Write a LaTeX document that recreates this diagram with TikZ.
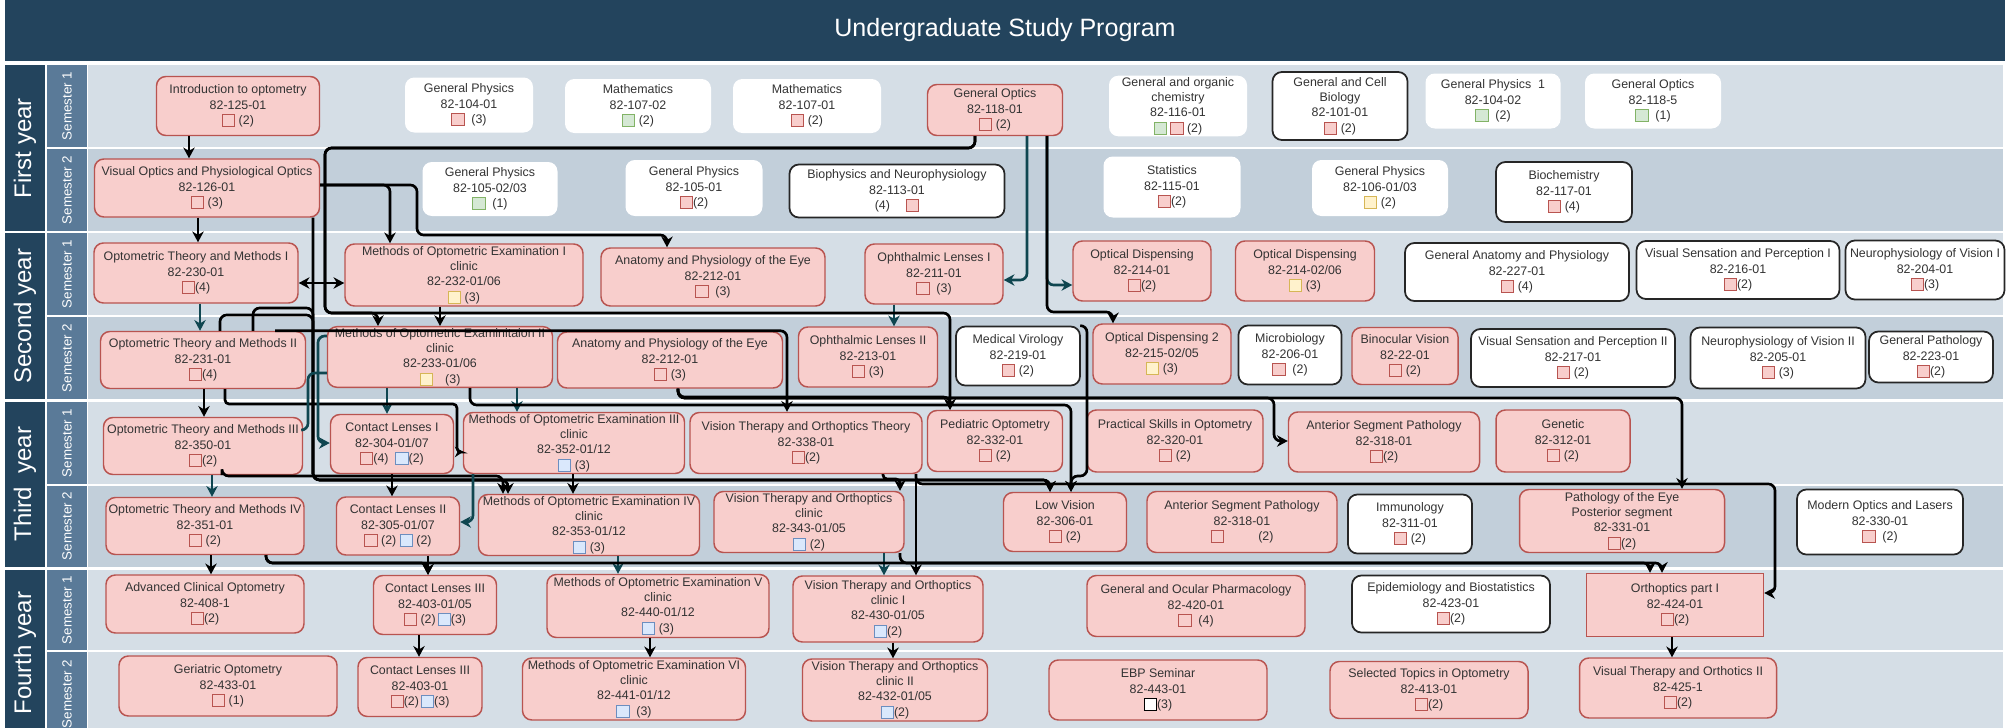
\documentclass[tikz,border=0pt]{standalone}
\usepackage{fontspec}
\setmainfont{Liberation Sans}
\usetikzlibrary{arrows.meta}

\definecolor{navy}{HTML}{23445D}
\definecolor{semblue}{HTML}{5A7A98}
\definecolor{bandA}{HTML}{D5DEE6}
\definecolor{bandB}{HTML}{C2CFDA}
\definecolor{pinkfill}{HTML}{F8CECC}
\definecolor{pinkline}{HTML}{B85450}
\definecolor{greenfill}{HTML}{D5E8D4}
\definecolor{greenline}{HTML}{82B366}
\definecolor{yellowfill}{HTML}{FFF2CC}
\definecolor{yellowline}{HTML}{D6B656}
\definecolor{bluefill}{HTML}{DAE8FC}
\definecolor{blueline}{HTML}{6C8EBF}
\definecolor{tealline}{HTML}{0F4650}
\definecolor{txt}{HTML}{333333}

\setlength{\fboxsep}{0pt}
\setlength{\fboxrule}{0.7pt}
\newcommand{\csq}[2]{\raisebox{-1.2pt}{\fcolorbox{#1}{#2}{\rule{0pt}{8.5pt}\rule{8.5pt}{0pt}}}}
\newcommand{\sqp}{\csq{pinkline}{pinkfill}}
\newcommand{\sqg}{\csq{greenline}{greenfill}}
\newcommand{\sqy}{\csq{yellowline}{yellowfill}}
\newcommand{\sqb}{\csq{blueline}{bluefill}}
\newcommand{\sqw}{\csq{black}{white}}
\newcommand{\nodefont}{\fontsize{9.3}{11.6}\selectfont}

\tikzset{every picture/.style={line width=0.75pt}}
\tikzset{
  course/.style={draw=pinkline, fill=pinkfill, rounded corners=7pt, line width=1.1pt, align=center, inner sep=1pt, text=txt, font=\nodefont},
  elect/.style={course, draw=none, fill=white},
  extc/.style={course, draw=black!85, fill=white, line width=1.3pt},
  sz/.style 2 args={minimum width=#1*0.75pt, minimum height=#2*0.75pt},
  link/.style={draw=black, line width=2pt, rounded corners=5pt, ->, >={Stealth[length=8pt,width=8.5pt,inset=2.5pt]}},
  tlink/.style={link, draw=tealline},
  semlabel/.style={rotate=90, text=white, font=\fontsize{10}{12}\selectfont},
  yearlabel/.style={rotate=90, text=white, font=\fontsize{18}{22}\selectfont}
}

\begin{document}
\begin{tikzpicture}[x=0.75pt,y=0.75pt,yscale=-1,xscale=1]
\useasboundingbox (0,0) rectangle (2010,728);

%Title bar
\fill[navy] (5,0) rectangle (2005,61);
\node[font=\fontsize{18.8}{22}\selectfont, text=white] (title) at (1005,30) {Undergraduate Study Program};

%Year columns
\fill[navy] (5,65) rectangle (45,231);
\fill[navy] (5,233) rectangle (45,399);
\fill[navy] (5,402) rectangle (45,567);
\fill[navy] (5,570) rectangle (45,740);
\node[yearlabel] (y1) at (25,148) {First year};
\node[yearlabel] (y2) at (25,316) {Second year};
\node[yearlabel] (y3) at (25,484) {Third\ \ year};
\node[yearlabel] (y4) at (25,653) {Fourth year};

%Semester cells and bands
\fill[semblue] (47,65) rectangle (87,147);   \fill[bandA] (88,65) rectangle (2003,147);
\fill[semblue] (47,149) rectangle (87,231);  \fill[bandB] (88,149) rectangle (2003,231);
\fill[semblue] (47,233) rectangle (87,315);  \fill[bandA] (88,233) rectangle (2003,315);
\fill[semblue] (47,317) rectangle (87,399);  \fill[bandB] (88,317) rectangle (2003,399);
\fill[semblue] (47,402) rectangle (87,484);  \fill[bandA] (88,402) rectangle (2003,484);
\fill[semblue] (47,486) rectangle (87,567);  \fill[bandB] (88,486) rectangle (2003,567);
\fill[semblue] (47,570) rectangle (87,650);  \fill[bandA] (88,570) rectangle (2003,650);
\fill[semblue] (47,652) rectangle (87,740);  \fill[bandA] (88,652) rectangle (2003,740);
\node[semlabel] (s11) at (67,106) {Semester 1};
\node[semlabel] (s12) at (67,190) {Semester 2};
\node[semlabel] (s21) at (67,274) {Semester 1};
\node[semlabel] (s22) at (67,358) {Semester 2};
\node[semlabel] (s31) at (67,443) {Semester 1};
\node[semlabel] (s32) at (67,526) {Semester 2};
\node[semlabel] (s41) at (67,610) {Semester 1};
\node[semlabel] (s42) at (67,694) {Semester 2};

% First year, semester 1
\node[course, sz={163}{59}] (intro) at (238,106) {Introduction to optometry\\82-125-01\\\sqp\ (2)};
\node[elect, sz={128}{55}] (gphys1) at (469,105) {General Physics\\82-104-01\\\sqp\ \ (3)};
\node[elect, sz={146}{54}] (math2) at (638,106) {Mathematics\\82-107-02\\\sqg\ (2)};
\node[elect, sz={148}{54}] (math1) at (807,106) {Mathematics\\82-107-01\\\sqp\ (2)};
\node[course, sz={135}{51}] (genopt) at (995,110) {General Optics\\82-118-01\\\sqp\ (2)};
\node[elect, sz={138}{60}] (chem) at (1178,106) {General and organic\\chemistry\\82-116-01\\\sqg\ \sqp\ (2)};
\node[extc, sz={135}{68}] (biol) at (1340,106) {General and Cell\\Biology\\82-101-01\\\sqp\ (2)};
\node[elect, sz={135}{55}] (gphys1b) at (1493,101) {General Physics\ \ 1\\82-104-02\\\sqg\ \ (2)};
\node[elect, sz={136}{55}] (genoptb) at (1653,101) {General Optics\\82-118-5\\\sqg\ \ (1)};

% First year, semester 2
\node[course, sz={225}{58}] (visop) at (207,188) {Visual Optics and Physiological Optics\\82-126-01\\\sqp\ (3)};
\node[elect, sz={135}{54}] (gphys2) at (490,189) {General Physics\\82-105-02/03\\\sqg\ \ (1)};
\node[elect, sz={137}{56}] (gphys3) at (694,188) {General Physics\\82-105-01\\\sqp(2)};
\node[extc, sz={215}{53}] (bioph) at (897,191) {Biophysics and Neurophysiology\\82-113-01\\(4)\hspace{12pt}\sqp};
\node[elect, sz={137}{61}] (stat) at (1172,187) {Statistics\\82-115-01\\\sqp(2)};
\node[elect, sz={136}{56}] (gphys4) at (1380,188) {General Physics\\82-106-01/03\\\sqy\ (2)};
\node[extc, sz={136}{60}] (bioch) at (1564,192) {Biochemistry\\82-117-01\\\sqp\ (4)};

% Second year, semester 1
\node[course, sz={204}{60}] (otm1) at (196,273) {Optometric Theory and Methods I\\82-230-01\\\sqp(4)};
\node[course, sz={238}{62}] (meth1) at (464,275) {Methods of Optometric Examination I\\clinic\\82-232-01/06\\\sqy\ (3)};
\node[course, sz={224}{58}] (anat1) at (713,277) {Anatomy and Physiology of the Eye\\82-212-01\\\sqp\ \ (3)};
\node[course, sz={138}{60}] (ophl1) at (934,274) {Ophthalmic Lenses I\\82-211-01\\\sqp\ \ (3)};
\node[course, sz={138}{60}] (od1) at (1142,271) {Optical Dispensing\\82-214-01\\\sqp(2)};
\node[course, sz={139}{60}] (od2) at (1305,271) {Optical Dispensing\\82-214-02/06\\\sqy\ (3)};
\node[extc, sz={224}{58}] (ganat) at (1517,272) {General Anatomy and Physiology\\82-227-01\\\sqp\ (4)};
\node[extc, sz={203}{58}] (vsp1) at (1738,270) {Visual Sensation and Perception I\\82-216-01\\\sqp(2)};
\node[extc, sz={159}{59}] (neuro1) at (1925,270) {Neurophysiology of Vision I\\82-204-01\\\sqp(3)};

% Second year, semester 2
\node[course, sz={205}{57}] (otm2) at (203,360) {Optometric Theory and Methods II\\82-231-01\\\sqp(4)};
\node[course, sz={225}{58}] (meth2) at (440,357) {Methods of Optometric Examinitaion II\\clinic\\82-233-01/06\\\sqy\quad(3)};
\node[course, sz={225}{56}] (anat2) at (670,360) {Anatomy and Physiology of the Eye\\82-212-01\\\sqp\ (3)};
\node[course, sz={139}{60}] (ophl2) at (868,357) {Ophthalmic Lenses II\\82-213-01\\\sqp\ (3)};
\node[extc, sz={124}{59}] (virol) at (1018,356) {Medical Virology\\82-219-01\\\sqp\ (2)};
\node[course, sz={138}{60}] (od3) at (1162,354) {Optical Dispensing 2\\82-215-02/05\\\sqy\ (3)};
\node[extc, sz={103}{59}] (micro) at (1290,355) {Microbiology\\82-206-01\\\sqp\ \ (2)};
\node[course, sz={106}{57}] (binoc) at (1405,356) {Binocular Vision\\82-22-01\\\sqp\ (2)};
\node[extc, sz={204}{58}] (vsp2) at (1573,358) {Visual Sensation and Perception II\\82-217-01\\\sqp\ (2)};
\node[extc, sz={175}{61}] (neuro2) at (1778,358) {Neurophysiology of Vision II\\82-205-01\\\sqp\ (3)};
\node[extc, sz={124}{51}] (gpath) at (1931,357) {General Pathology\\82-223-01\\\sqp(2)};

% Third year, semester 1
\node[course, sz={199}{57}] (otm3) at (203,446) {Optometric Theory and Methods III\\82-350-01\\\sqp(2)};
\node[course, sz={123}{59}] (cl1) at (392,444) {Contact Lenses I\\82-304-01/07\\\sqp(4)\ \ \sqb(2)};
\node[course, sz={221}{61}] (meth3) at (574,443) {Methods of Optometric Examination III\\clinic\\82-352-01/12\\\sqb\ (3)};
\node[course, sz={232}{61}] (vtt) at (806,443) {Vision Therapy and Orthoptics Theory\\82-338-01\\\sqp(2)};
\node[course, sz={135}{61}] (ped) at (995,441) {Pediatric Optometry\\82-332-01\\\sqp\ (2)};
\node[course, sz={176}{62}] (psk) at (1175,441) {Practical Skills in Optometry\\82-320-01\\\sqp\ (2)};
\node[course, sz={191}{60}] (asp1) at (1384,442) {Anterior Segment Pathology\\82-318-01\\\sqp(2)};
\node[course, sz={134}{62}] (genet) at (1563,441) {Genetic\\82-312-01\\\sqp\ (2)};

% Third year, semester 2
\node[course, sz={198}{57}] (otm4) at (205,526) {Optometric Theory and Methods IV\\82-351-01\\\sqp\ (2)};
\node[course, sz={123}{58}] (cl2) at (398,526) {Contact Lenses II\\82-305-01/07\\\sqp\ (2)\ \sqb\ (2)};
\node[course, sz={221}{61}] (meth4) at (589,525) {Methods of Optometric Examination IV\\clinic\\82-353-01/12\\\sqb\ (3)};
\node[course, sz={190}{61}] (vtc) at (809,522) {Vision Therapy and Orthoptics\\clinic\\82-343-01/05\\\sqb\ (2)};
\node[course, sz={123}{59}] (lowv) at (1065,522) {Low Vision\\82-306-01\\\sqp\ (2)};
\node[course, sz={190}{61}] (asp2) at (1242,522) {Anterior Segment Pathology\\82-318-01\\\sqp\hspace{26pt}(2)};
\node[extc, sz={124}{59}] (immun) at (1410,524) {Immunology\\82-311-01\\\sqp\ (2)};
\node[course, sz={205}{63}] (poe) at (1622,521) {Pathology of the Eye\\Posterior segment\\82-331-01\\\sqp(2)};
\node[extc, sz={166}{65}] (mol) at (1880,522) {Modern Optics and Lasers\\82-330-01\\\sqp\ \ (2)};

% Fourth year, semester 1
\node[course, sz={198}{58}] (aco) at (205,604) {Advanced Clinical Optometry\\82-408-1\\\sqp(2)};
\node[course, sz={123}{59}] (cl3a) at (435,605) {Contact Lenses III\\82-403-01/05\\\sqp\ (2)\,\sqb(3)};
\node[course, sz={222}{63}] (meth5) at (658,606) {Methods of Optometric Examination V\\clinic\\82-440-01/12\\\sqb\ (3)};
\node[course, sz={190}{66}] (vtc1) at (888,609) {Vision Therapy and Orthoptics\\clinic I\\82-430-01/05\\\sqb(2)};
\node[course, sz={218}{61}] (pharm) at (1196,606) {General and Ocular Pharmacology\\82-420-01\\\sqp\ \ (4)};
\node[extc, sz={198}{57}] (epi) at (1451,604) {Epidemiology and Biostatistics\\82-423-01\\\sqp(2)};
\node[course, sharp corners, sz={177}{63}] (orth1) at (1675,605) {Orthoptics part I\\82-424-01\\\sqp(2)};

% Fourth year, semester 2
\node[course, sz={218}{60}] (ger) at (228,686) {Geriatric Optometry\\82-433-01\\\sqp\ (1)};
\node[course, sz={124}{59}] (cl3b) at (420,687) {Contact Lenses III\\82-403-01\\\sqp(2)\,\sqb(3)};
\node[course, sz={223}{62}] (meth6) at (634,689) {Methods of Optometric Examination VI\\clinic\\82-441-01/12\\\sqb\ \ (3)};
\node[course, sz={185}{62}] (vtc2) at (895,690) {Vision Therapy and Orthoptics\\clinic II\\82-432-01/05\\\sqb(2)};
\node[course, sz={218}{60}] (ebp) at (1158,690) {EBP Seminar\\82-443-01\\\sqw(3)};
\node[course, sz={198}{57}] (sel) at (1429,690) {Selected Topics in Optometry\\82-413-01\\\sqp(2)};
\node[course, sz={197}{60}] (vt2) at (1678,688) {Visual Therapy and Orthotics II\\82-425-1\\\sqp(2)};

% Straight prerequisites
\draw[link] (189,0 |- intro.south) -- (189,0 |- visop.north);
\draw[link] (198,0 |- visop.south) -- (198,0 |- otm1.north);
\draw[tlink] (200,0 |- otm1.south) -- (200,0 |- otm2.north);
\draw[link] (204,0 |- otm2.south) -- (204,0 |- otm3.north);
\draw[tlink] (212,0 |- otm3.south) -- (212,0 |- otm4.north);
\draw[link] (211,0 |- otm4.south) -- (211,0 |- aco.north);
\draw[link] (440,0 |- meth1.south) -- (440,0 |- meth2.north);
\draw[link] (392,0 |- cl1.south) -- (392,0 |- cl2.north);
\draw[link] (428,0 |- cl2.south) -- (428,0 |- cl3a.north);
\draw[link] (419,0 |- cl3a.south) -- (419,0 |- cl3b.north);
\draw[link] (573,0 |- meth3.south) -- (573,0 |- meth4.north);
\draw[link] (650,0 |- meth5.south) -- (650,0 |- meth6.north);
\draw[link] (893,0 |- vtc1.south) -- (893,0 |- vtc2.north);
\draw[link] (1672,0 |- orth1.south) -- (1672,0 |- vt2.north);
\draw[tlink] (894,0 |- ophl1.south) -- (894,0 |- ophl2.north);
\draw[tlink] (387,0 |- meth2.south) -- (387,0 |- cl1.north);
\draw[tlink] (517,0 |- meth2.south) -- (517,0 |- meth3.north);
\draw[tlink] (618,0 |- meth4.south) -- (618,0 |- meth5.north);
\draw[tlink] (884,0 |- vtc.south) -- (884,0 |- vtc1.north);
\draw[link] (916,0 |- vtt.south) -- (916,0 |- vtc1.north);
\draw[link, <->] (otm1.east |- 0,283) -- (meth1.west |- 0,283);

% Routed prerequisites
\draw[link] (visop.east |- 0,185) -- (390,185) -- (390,0 |- meth1.north);
\draw[link] (visop.east |- 0,185) -- (417,185) -- (417,235) -- (667,235) -- (667,0 |- anat1.north);
\draw[link] (975,0 |- genopt.south) -- (975,148) -- (325,148) -- (325,313) -- (378,313) -- (378,0 |- meth2.north);
\draw[link] (975,0 |- genopt.south) -- (975,148) -- (325,148) -- (325,313) -- (950,313) -- (950,0 |- ped.north);
\draw[tlink] (1027,0 |- genopt.south) -- (1027,280) -- (ophl1.east |- 0,280);
\draw[tlink] (1047,0 |- genopt.south) -- (1047,285) -- (od1.west |- 0,285);
\draw[link] (1047,0 |- genopt.south) -- (1047,312) -- (1113,312) -- (1113,0 |- od3.north);
\draw[link] (313,0 |- visop.south) -- (313,480) -- (1050,480) -- (1050,0 |- lowv.north);
\draw[link] (220,0 |- otm2.north) -- (220,315) -- (313,315) -- (313,480) -- (508,480) -- (508,0 |- meth4.north);
\draw[link] (253,0 |- otm2.north) -- (253,308) -- (313,308) -- (313,480) -- (1050,480) -- (1050,0 |- lowv.north);
\draw[link] (275,0 |- otm2.north) -- (787,0 |- otm2.north) -- (787,0 |- vtt.north);
\draw[link, rounded corners=3pt, >={Stealth[length=6pt,width=8pt,inset=2pt]}] (225,0 |- otm2.south) -- (225,404) -- (457,404) -- (457,452) -- (meth3.west |- 0,452);
\draw[tlink] (meth2.west |- 0,336) -- (318,336) -- (318,443) -- (cl1.west |- 0,443);
\draw[tlink, -] (meth2.west |- 0,373) -- (308,373) -- (308,430) -- (otm3.east |- 0,430);
\draw[link] (470,0 |- meth2.south) -- (470,405) -- (1071,405) -- (1071,0 |- lowv.north);
\draw[link] (virol.north east) -- (1087,0 |- virol.north) -- (1087,476) -- (1071,476) -- (1071,0 |- lowv.north);
\draw[link] (678,0 |- anat2.south) -- (678,397) -- (950,397) -- (950,0 |- ped.north);
\draw[link] (678,0 |- anat2.south) -- (678,398) -- (1274,398) -- (1274,441) -- (asp1.west |- 0,441);
\draw[link] (678,0 |- anat2.south) -- (678,398) -- (1682,398) -- (1682,0 |- poe.north);
\draw[link] (222,0 |- otm3.south) -- (222,476) -- (503,476) -- (503,0 |- meth4.north);
\draw[tlink] (473,0 |- meth3.south) -- (473,522) -- (cl2.east |- 0,522);
\draw[link, rounded corners=3pt] (883,0 |- vtt.south) -- (883,479) -- (900,479) -- (900,0 |- vtc.north);
\draw[link] (916,0 |- vtt.south) -- (916,484) -- (1775,484) -- (1775,593) -- (orth1.east |- 0,593);
\draw[link] (266,0 |- otm4.south) -- (266,563) -- (428,563) -- (428,0 |- cl3a.north);
\draw[link] (266,0 |- otm4.south) -- (266,563) -- (1650,563) -- (1650,0 |- orth1.north);
\draw[link] (900,0 |- vtc.south) -- (900,563) -- (1662,563) -- (1662,0 |- orth1.north);

\end{tikzpicture}
\end{document}
